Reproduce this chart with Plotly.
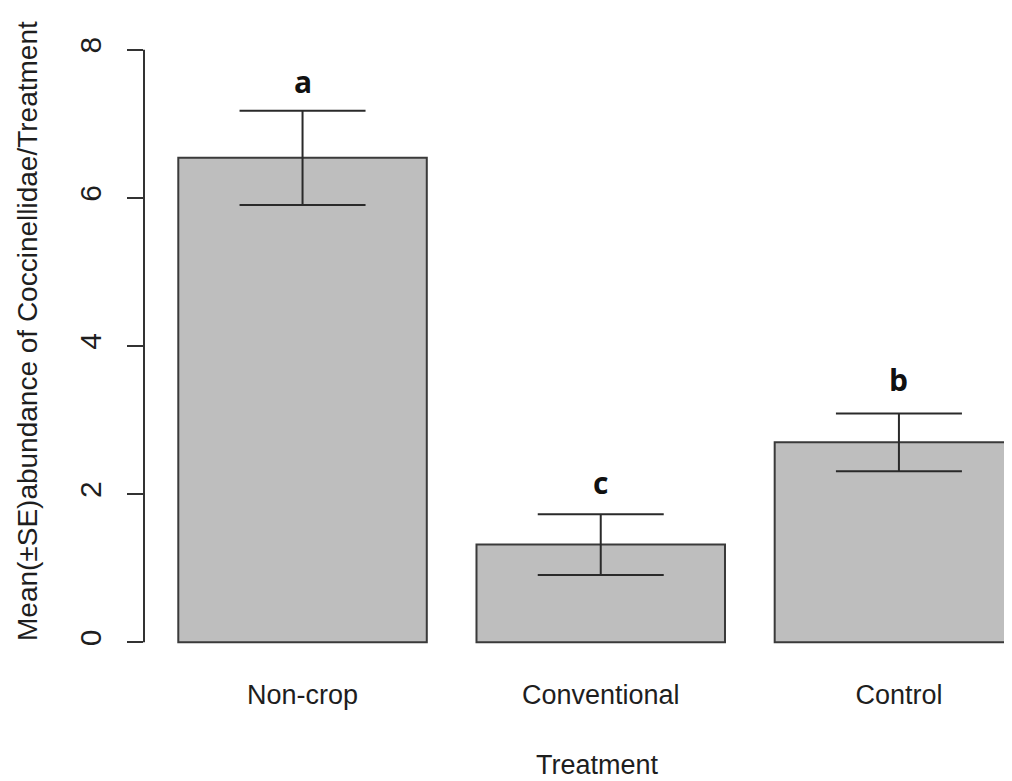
import plotly.graph_objects as go

# ---- data ----
categories = ["Non-crop", "Conventional", "Control"]
means = [6.54, 1.32, 2.70]
se = [0.635, 0.41, 0.39]
letters = ["a", "c", "b"]
letter_y = [7.43, 2.01, 3.41]
bar_pos = [0.7, 1.9, 3.1]
y_ticks = [0, 2, 4, 6, 8]
x_title = "Treatment"
y_title = "Mean(±SE)abundance of Coccinellidae/Treatment"

TXT = "#1e1e1e"
FONT = "Liberation Sans, Arial, sans-serif"

fig = go.Figure()
fig.add_trace(go.Bar(
    x=bar_pos, y=means, width=1,
    marker=dict(color="#bebebe", line=dict(color="#3a3a3a", width=2)),
    error_y=dict(type="data", array=se, visible=True,
                 color="#2a2a2a", thickness=2, width=63),
    showlegend=False,
))

for xp, yp, t in zip(bar_pos, letter_y, letters):
    fig.add_annotation(x=xp, y=yp, text="<b>%s</b>" % t, showarrow=False,
                       xanchor="center", yanchor="bottom", yshift=-12,
                       font=dict(family="Open Sans, sans-serif", size=30, color="#111"))

# axis titles placed like R's mtext
fig.add_annotation(xref="paper", yref="paper", x=-0.1348, y=0.5234,
                   text=y_title, textangle=-90, showarrow=False,
                   xanchor="center", yanchor="middle", borderpad=0,
                   font=dict(family=FONT, size=28, color=TXT))
fig.add_annotation(xref="paper", yref="paper", x=0.523, y=-0.1547,
                   text=x_title, showarrow=False,
                   xanchor="center", yanchor="middle",
                   font=dict(family=FONT, size=27, color=TXT))

# y axis line spanning only the tick range (R style)
fig.add_shape(type="line", xref="paper", yref="y", x0=0, x1=0,
              y0=y_ticks[0], y1=y_ticks[-1],
              line=dict(color="#333", width=2))

fig.update_layout(
    width=1004, height=773,
    margin=dict(l=136, r=0, t=18, b=115),
    paper_bgcolor="white", plot_bgcolor="white",
    font=dict(family=FONT, size=27, color=TXT),
    xaxis=dict(range=[0.062, 3.555], tickvals=bar_pos, ticktext=categories,
               showgrid=False, zeroline=False, showline=False, ticks="",
               ticklabelstandoff=10),
    yaxis=dict(range=[-0.32, 8.32], tickvals=y_ticks,
               ticktext=[str(v) for v in y_ticks],
               showgrid=False, zeroline=False, showline=False,
               ticks="outside", ticklen=16, tickwidth=2, tickcolor="#333",
               tickangle=-90, ticklabelstandoff=14,
               tickfont=dict(family=FONT, size=30, color=TXT)),
)

fig.write_html("out.html")
